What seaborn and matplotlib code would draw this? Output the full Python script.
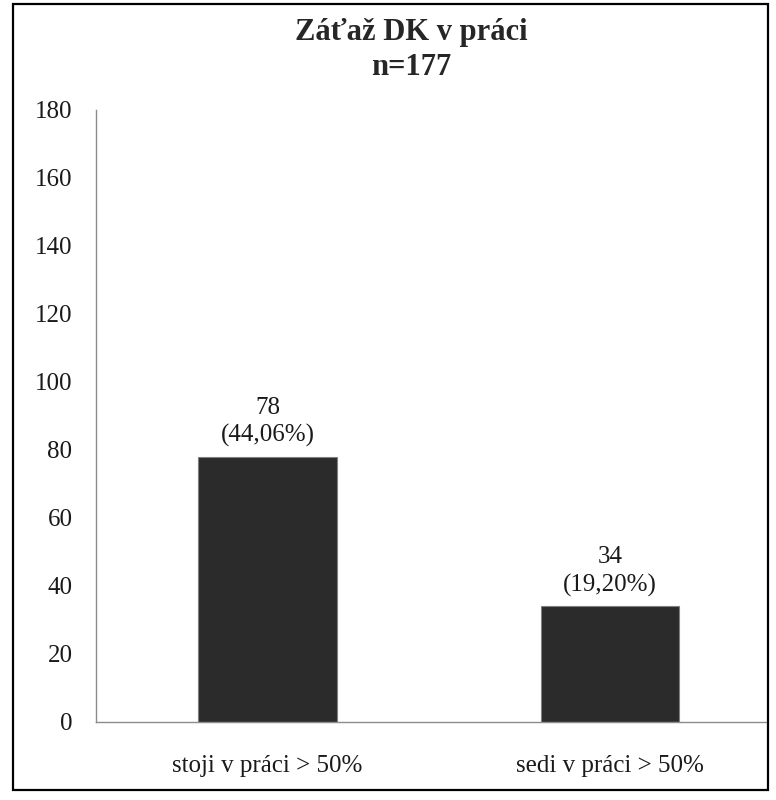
import matplotlib
matplotlib.use('Agg')
import matplotlib.pyplot as plt
import seaborn as sns
from matplotlib.patches import Rectangle

categories = ['stoji v práci > 50%', 'sedi v práci > 50%']
counts = [78, 34]
percents = ['44,06%', '19,20%']
title = 'Záťaž DK v práci\nn=177'

sns.set_style('white')
plt.rcParams['font.family'] = ['Liberation Serif', 'DejaVu Serif']

W, H = 776, 800
fig = plt.figure(figsize=(W / 100, H / 100), dpi=100)
ax = fig.add_axes([96 / W, (H - 722) / H, (767 - 96) / W, (722 - 110) / H])

sns.barplot(x=categories, y=counts, color='#2b2b2b', width=0.405,
            edgecolor='#808080', linewidth=0.8, saturation=1, ax=ax)

ax.set_ylim(0, 180)
ax.set_yticks(range(0, 181, 20))
ax.set_xlim(-0.5007, 1.458)
ax.tick_params(axis='both', length=0, labelsize=18, colors='#1a1a1a')
ax.tick_params(axis='y', pad=17)
ax.tick_params(axis='x', pad=24)
for side in ['top', 'right']:
    ax.spines[side].set_visible(False)
for side in ['left', 'bottom']:
    ax.spines[side].set_color('#8c8c8c')
    ax.spines[side].set_linewidth(1.0)

for i, (c, p) in enumerate(zip(counts, percents)):
    ax.annotate('%d\n(%s)' % (c, p), (i, c), xytext=(0, 7), textcoords='offset points',
                ha='center', va='bottom', fontsize=18, color='#1a1a1a', linespacing=1.3)

fig.text(411 / W, 1 - 50 / H, title, ha='center', va='center', fontsize=22,
         fontweight='bold', linespacing=1.25)

fig.patches.append(Rectangle((13 / W, 10 / H), (768 - 13) / W, (796 - 10) / H,
                             transform=fig.transFigure, fill=False,
                             edgecolor='black', linewidth=1.6))

fig.savefig('out.png', dpi=100)
